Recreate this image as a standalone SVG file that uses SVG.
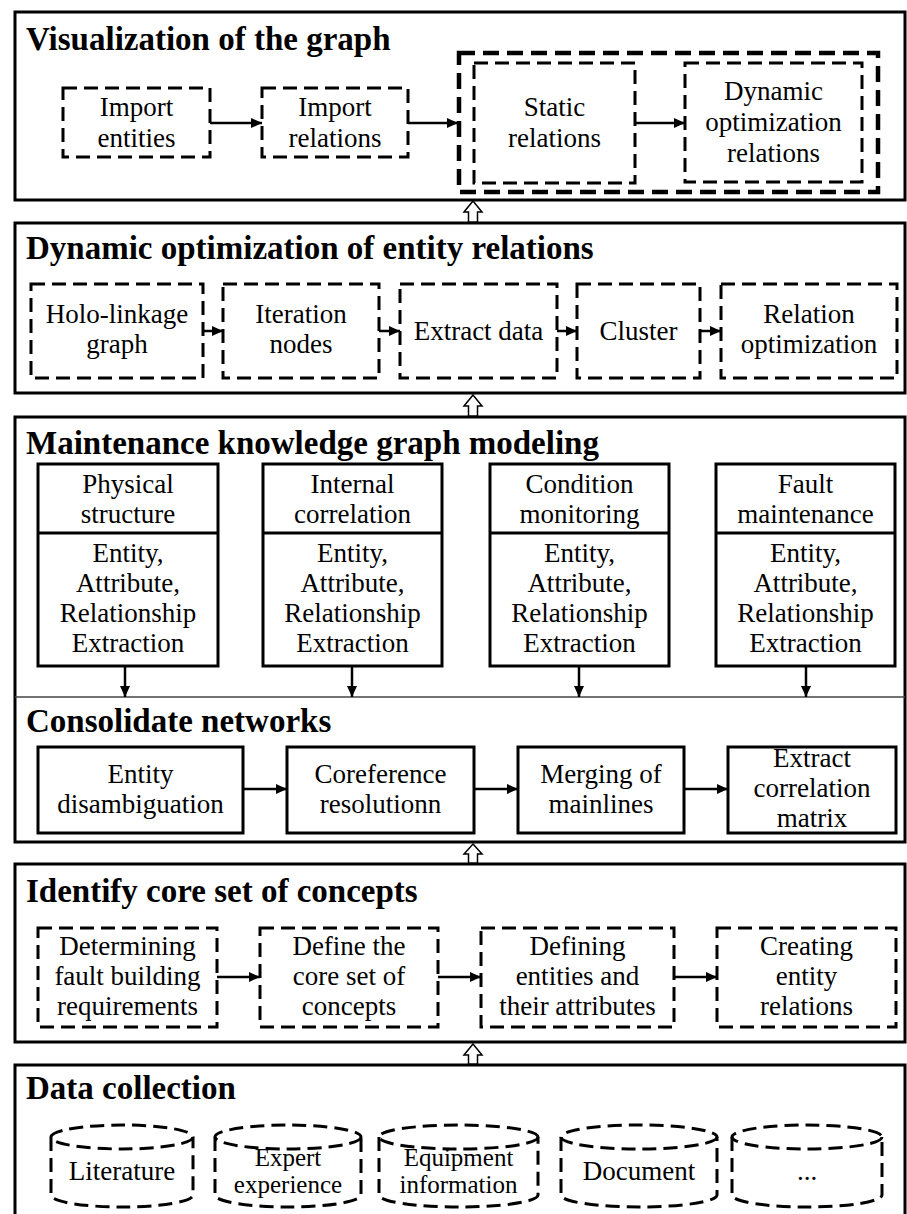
<svg xmlns="http://www.w3.org/2000/svg" width="907" height="1214" viewBox="0 0 907 1214" font-family="'Liberation Serif', 'Times New Roman', serif">
<style>
.frame{fill:none;stroke:#000;stroke-width:3}
.sep{fill:none;stroke:#444;stroke-width:1.5}
.dash{fill:none;stroke:#000;stroke-width:3;stroke-dasharray:14 7}
.bigdash{fill:none;stroke:#000;stroke-width:4.5;stroke-dasharray:16 8}
.solid{fill:none;stroke:#000;stroke-width:3}
.title{font-family:'Liberation Serif','Times New Roman',serif;font-weight:bold;font-size:33px;fill:#000}
.t{font-family:'Liberation Serif','Times New Roman',serif;font-size:27px;fill:#000;text-anchor:middle}
.ts{font-size:25px}
.con{fill:none;stroke:#000;stroke-width:2.5}
.hollow{fill:#fff;stroke:#000;stroke-width:1.5}
</style>
<defs>
<marker id="ah" markerUnits="userSpaceOnUse" markerWidth="11" markerHeight="10" refX="11" refY="5" orient="auto">
<path d="M0,0 L11,5 L0,10 Z" fill="#000"/>
</marker>
</defs>
<rect width="907" height="1214" fill="#fff"/>

<!-- Section frames -->
<g id="sec-visualization">
<rect class="frame" x="15" y="12" width="890" height="188"/>
<text class="title" x="26" y="50">Visualization of the graph</text>
</g>
<g id="sec-dynamic">
<rect class="frame" x="15" y="223" width="890" height="170"/>
<text class="title" x="26" y="259">Dynamic optimization of entity relations</text>
</g>
<g id="sec-maintenance">
<rect class="frame" x="15" y="417" width="890" height="425"/>
<line class="sep" x1="15" y1="697" x2="905" y2="697"/>
<text class="title" x="26" y="454">Maintenance knowledge graph modeling</text>
<text class="title" x="26" y="732">Consolidate networks</text>
</g>
<g id="sec-identify">
<rect class="frame" x="15" y="864" width="890" height="178"/>
<text class="title" x="26" y="902">Identify core set of concepts</text>
</g>
<g id="sec-data">
<rect class="frame" x="15" y="1065" width="890" height="152"/>
<text class="title" x="26" y="1099">Data collection</text>
</g>

<!-- Section 1 nodes -->
<g id="n-import-entities">
<rect class="dash" x="63" y="88" width="147" height="69"/>
<text class="t" x="136.5" y="116">Import</text>
<text class="t" x="136.5" y="147">entities</text>
</g>
<g id="n-import-relations">
<rect class="dash" x="262" y="88" width="146" height="69"/>
<text class="t" x="335" y="116">Import</text>
<text class="t" x="335" y="147">relations</text>
</g>
<g id="n-relations-group">
<rect class="bigdash" x="459" y="53" width="419" height="139"/>
</g>
<g id="n-static">
<rect class="dash" x="474" y="63" width="161" height="120"/>
<text class="t" x="554.5" y="116">Static</text>
<text class="t" x="554.5" y="147">relations</text>
</g>
<g id="n-dynamic-opt">
<rect class="dash" x="685" y="63" width="177" height="119"/>
<text class="t" x="773.5" y="100">Dynamic</text>
<text class="t" x="773.5" y="131">optimization</text>
<text class="t" x="773.5" y="162">relations</text>
</g>

<!-- Section 2 nodes -->
<g id="n-holo">
<rect class="dash" x="31" y="284" width="172" height="94"/>
<text class="t" x="117" y="323">Holo-linkage</text>
<text class="t" x="117" y="353">graph</text>
</g>
<g id="n-iteration">
<rect class="dash" x="223" y="284" width="156" height="94"/>
<text class="t" x="301" y="323">Iteration</text>
<text class="t" x="301" y="353">nodes</text>
</g>
<g id="n-extract-data">
<rect class="dash" x="400" y="284" width="157" height="94"/>
<text class="t" x="478.5" y="340">Extract data</text>
</g>
<g id="n-cluster">
<rect class="dash" x="577" y="284" width="123" height="94"/>
<text class="t" x="638.5" y="340">Cluster</text>
</g>
<g id="n-relation-opt">
<rect class="dash" x="721" y="284" width="176" height="94"/>
<text class="t" x="809" y="323">Relation</text>
<text class="t" x="809" y="353">optimization</text>
</g>

<!-- Section 3 nodes -->
<g id="n-physical">
<rect class="solid" x="38" y="464" width="180" height="202"/>
<line class="solid" x1="38" y1="533" x2="218" y2="533"/>
<text class="t" x="128" y="493">Physical</text>
<text class="t" x="128" y="523">structure</text>
<text class="t" x="128" y="562">Entity,</text>
<text class="t" x="128" y="592">Attribute,</text>
<text class="t" x="128" y="622">Relationship</text>
<text class="t" x="128" y="652">Extraction</text>
</g>
<g id="n-internal">
<rect class="solid" x="263" y="464" width="179" height="202"/>
<line class="solid" x1="263" y1="533" x2="442" y2="533"/>
<text class="t" x="352.5" y="493">Internal</text>
<text class="t" x="352.5" y="523">correlation</text>
<text class="t" x="352.5" y="562">Entity,</text>
<text class="t" x="352.5" y="592">Attribute,</text>
<text class="t" x="352.5" y="622">Relationship</text>
<text class="t" x="352.5" y="652">Extraction</text>
</g>
<g id="n-condition">
<rect class="solid" x="490" y="464" width="179" height="202"/>
<line class="solid" x1="490" y1="533" x2="669" y2="533"/>
<text class="t" x="579.5" y="493">Condition</text>
<text class="t" x="579.5" y="523">monitoring</text>
<text class="t" x="579.5" y="562">Entity,</text>
<text class="t" x="579.5" y="592">Attribute,</text>
<text class="t" x="579.5" y="622">Relationship</text>
<text class="t" x="579.5" y="652">Extraction</text>
</g>
<g id="n-fault">
<rect class="solid" x="716" y="464" width="179" height="202"/>
<line class="solid" x1="716" y1="533" x2="895" y2="533"/>
<text class="t" x="805.5" y="493">Fault</text>
<text class="t" x="805.5" y="523">maintenance</text>
<text class="t" x="805.5" y="562">Entity,</text>
<text class="t" x="805.5" y="592">Attribute,</text>
<text class="t" x="805.5" y="622">Relationship</text>
<text class="t" x="805.5" y="652">Extraction</text>
</g>

<!-- Section 4 nodes -->
<g id="n-disambiguation">
<rect class="solid" x="38" y="747" width="205" height="86"/>
<text class="t" x="140.5" y="783">Entity</text>
<text class="t" x="140.5" y="813">disambiguation</text>
</g>
<g id="n-coreference">
<rect class="solid" x="287" y="747" width="187" height="86"/>
<text class="t" x="380.5" y="783">Coreference</text>
<text class="t" x="380.5" y="813">resolutionn</text>
</g>
<g id="n-merging">
<rect class="solid" x="518" y="747" width="166" height="86"/>
<text class="t" x="601" y="783">Merging of</text>
<text class="t" x="601" y="813">mainlines</text>
</g>
<g id="n-extract-matrix">
<rect class="solid" x="728" y="747" width="168" height="86"/>
<text class="t" x="812" y="767">Extract</text>
<text class="t" x="812" y="797">correlation</text>
<text class="t" x="812" y="827">matrix</text>
</g>

<!-- Section 5 nodes -->
<g id="n-determining">
<rect class="dash" x="38" y="928" width="179" height="99"/>
<text class="t" x="127.5" y="955">Determining</text>
<text class="t" x="127.5" y="985">fault building</text>
<text class="t" x="127.5" y="1015">requirements</text>
</g>
<g id="n-define-core">
<rect class="dash" x="260" y="928" width="178" height="99"/>
<text class="t" x="349" y="955">Define the</text>
<text class="t" x="349" y="985">core set of</text>
<text class="t" x="349" y="1015">concepts</text>
</g>
<g id="n-defining-entities">
<rect class="dash" x="481" y="928" width="193" height="99"/>
<text class="t" x="577.5" y="955">Defining</text>
<text class="t" x="577.5" y="985">entities and</text>
<text class="t" x="577.5" y="1015">their attributes</text>
</g>
<g id="n-creating">
<rect class="dash" x="717" y="928" width="179" height="99"/>
<text class="t" x="806.5" y="955">Creating</text>
<text class="t" x="806.5" y="985">entity</text>
<text class="t" x="806.5" y="1015">relations</text>
</g>

<!-- Section 6 nodes (cylinders) -->
<g id="n-literature">
<ellipse class="dash" cx="122" cy="1137" rx="71" ry="12"/>
<path class="dash" d="M51,1137 L51,1195 A71,12 0 0,0 193,1195 L193,1137"/>
<text class="t" x="122" y="1180">Literature</text>
</g>
<g id="n-expert">
<ellipse class="dash" cx="288" cy="1137" rx="73" ry="12"/>
<path class="dash" d="M215,1137 L215,1195 A73,12 0 0,0 361,1195 L361,1137"/>
<text class="t ts" x="288" y="1166">Expert</text>
<text class="t ts" x="288" y="1193">experience</text>
</g>
<g id="n-equipment">
<ellipse class="dash" cx="458.5" cy="1137" rx="79.5" ry="12"/>
<path class="dash" d="M379,1137 L379,1195 A79.5,12 0 0,0 538,1195 L538,1137"/>
<text class="t ts" x="458.5" y="1166">Equipment</text>
<text class="t ts" x="458.5" y="1193">information</text>
</g>
<g id="n-document">
<ellipse class="dash" cx="639" cy="1137" rx="78" ry="12"/>
<path class="dash" d="M561,1137 L561,1195 A78,12 0 0,0 717,1195 L717,1137"/>
<text class="t" x="639" y="1180">Document</text>
</g>
<g id="n-more">
<ellipse class="dash" cx="807" cy="1137" rx="75" ry="12"/>
<path class="dash" d="M732,1137 L732,1195 A75,12 0 0,0 882,1195 L882,1137"/>
<text class="t" x="807" y="1180">...</text>
</g>

<!-- Connectors -->
<g id="connectors">
<line class="con" x1="210" y1="123" x2="262" y2="123" marker-end="url(#ah)"/>
<line class="con" x1="408" y1="123" x2="458" y2="123" marker-end="url(#ah)"/>
<line class="con" x1="635" y1="123" x2="685" y2="123" marker-end="url(#ah)"/>

<line class="con" x1="203" y1="331" x2="223" y2="331" marker-end="url(#ah)"/>
<line class="con" x1="379" y1="331" x2="400" y2="331" marker-end="url(#ah)"/>
<line class="con" x1="557" y1="331" x2="577" y2="331" marker-end="url(#ah)"/>
<line class="con" x1="700" y1="331" x2="721" y2="331" marker-end="url(#ah)"/>

<line class="con" x1="125" y1="666" x2="125" y2="697" marker-end="url(#ah)"/>
<line class="con" x1="352" y1="666" x2="352" y2="697" marker-end="url(#ah)"/>
<line class="con" x1="579" y1="666" x2="579" y2="697" marker-end="url(#ah)"/>
<line class="con" x1="806" y1="666" x2="806" y2="697" marker-end="url(#ah)"/>

<line class="con" x1="243" y1="789" x2="287" y2="789" marker-end="url(#ah)"/>
<line class="con" x1="474" y1="789" x2="518" y2="789" marker-end="url(#ah)"/>
<line class="con" x1="684" y1="789" x2="728" y2="789" marker-end="url(#ah)"/>

<line class="con" x1="217" y1="977" x2="260" y2="977" marker-end="url(#ah)"/>
<line class="con" x1="438" y1="977" x2="481" y2="977" marker-end="url(#ah)"/>
<line class="con" x1="674" y1="977" x2="717" y2="977" marker-end="url(#ah)"/>

<path class="hollow" d="M473,201 L482,212 L477.5,212 L477.5,222 L468.5,222 L468.5,212 L464,212 Z"/>
<path class="hollow" d="M473,395 L482,406 L477.5,406 L477.5,416 L468.5,416 L468.5,406 L464,406 Z"/>
<path class="hollow" d="M473,844 L482,854 L477.5,854 L477.5,863 L468.5,863 L468.5,854 L464,854 Z"/>
<path class="hollow" d="M473,1044 L482,1055 L477.5,1055 L477.5,1064 L468.5,1064 L468.5,1055 L464,1055 Z"/>
</g>
</svg>
